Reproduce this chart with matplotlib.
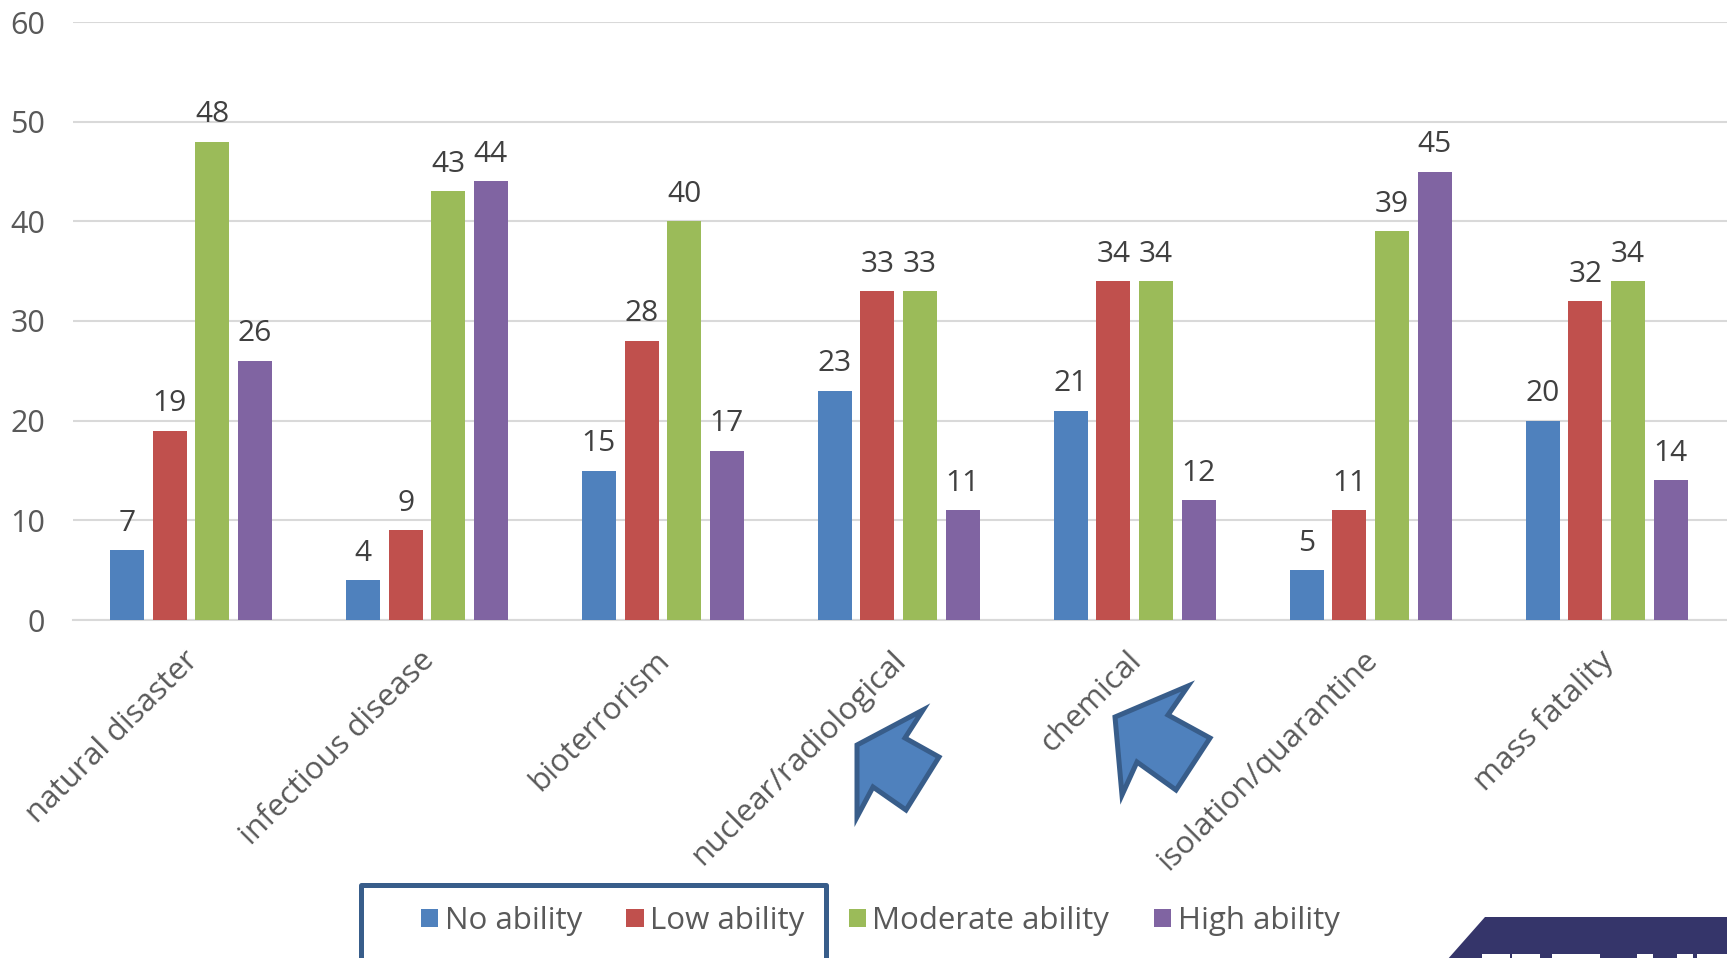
import matplotlib
matplotlib.use('Agg')
import matplotlib.pyplot as plt
import numpy as np
from matplotlib.patches import Polygon
from matplotlib.lines import Line2D
from matplotlib.transforms import ScaledTranslation

categories = ['natural disaster', 'infectious disease', 'bioterrorism', 'nuclear/radiological',
              'chemical', 'isolation/quarantine', 'mass fatality']
no_ability = [7, 4, 15, 23, 21, 5, 20]
low_ability = [19, 9, 28, 33, 34, 11, 32]
moderate_ability = [48, 43, 40, 33, 34, 39, 34]
high_ability = [26, 44, 17, 11, 12, 45, 14]

series_names = ['No ability', 'Low ability', 'Moderate ability', 'High ability']
series_colors = ['#4F81BD', '#C0504D', '#9BBB59', '#8064A2']

W, H = 1727, 958
plt.rcParams['font.family'] = ['Open Sans', 'DejaVu Sans']


def px(x, y):
    # reference pixels to figure fraction
    return x / W, 1 - y / H


fig = plt.figure(figsize=(W / 100, H / 100), dpi=100)
ax = fig.add_axes([73 / W, 1 - 620 / H, (W - 73) / W, (620 - 22) / H])

x = np.arange(len(categories))
bar_w = 0.144
step = 0.181
offsets = [-1.5, -0.5, 0.5, 1.5]
all_series = [no_ability, low_ability, moderate_ability, high_ability]

for values, off, name, color in zip(all_series, offsets, series_names, series_colors):
    bars = ax.bar(x + off * step, values, bar_w, color=color, label=name, zorder=3)
    ax.bar_label(bars, padding=9, fontsize=21.5, color='#404040')

ax.set_xlim(-0.5, 6.51)
ax.set_ylim(0, 60)
ax.set_yticks(range(0, 61, 10))
ax.grid(axis='y', color='#D9D9D9', linewidth=1.5, zorder=0)
ax.set_axisbelow(True)
for side in ['top', 'right', 'left']:
    ax.spines[side].set_visible(False)
ax.spines['bottom'].set_color('#D9D9D9')
ax.spines['bottom'].set_linewidth(1.5)
ax.tick_params(axis='y', length=0, labelsize=22, labelcolor='#595959', pad=20)
ax.tick_params(axis='x', length=0, labelsize=22.6, labelcolor='#595959', pad=18)
ax.set_xticks(x)
ax.set_xticklabels(categories, rotation=45, ha='right', rotation_mode='anchor')
for label in ax.get_xticklabels():
    label.set_transform(label.get_transform() + ScaledTranslation(-8 / 100, 0, fig.dpi_scale_trans))

ax.legend(loc='center left', bbox_to_anchor=px(421, 921), bbox_transform=fig.transFigure,
          ncol=4, frameon=False, fontsize=22.5, handlelength=0.55, handleheight=0.55,
          handletextpad=0.21, columnspacing=1.42, labelcolor='#595959', borderpad=0, borderaxespad=0)

# box around part of the legend, runs off the bottom
bx, by = zip(*[px(361, 960), px(361, 885), px(826, 885), px(826, 960)])
fig.add_artist(Line2D(bx, by, color='#385D8A', linewidth=3.6, solid_joinstyle='round'))

# the two arrows
arrow1 = [(857, 745), (923, 710), (905, 738), (939, 757), (906, 810), (873, 787), (857, 817)]
arrow2 = [(1115, 717), (1188, 686), (1168, 715), (1210, 738), (1176, 790), (1137, 762), (1122, 795)]
for pts in [arrow1, arrow2]:
    fig.add_artist(Polygon([px(*p) for p in pts], closed=True, facecolor='#4F81BD',
                           edgecolor='#385D8A', linewidth=3.6, joinstyle='miter',
                           transform=fig.transFigure))

# logo corner, only the top of its lettering shows
logo = [(1485, 917), (W, 917), (W, 960), (1447, 960)]
fig.add_artist(Polygon([px(*p) for p in logo], closed=True, facecolor='#35356A',
                       edgecolor='none', transform=fig.transFigure))
for x0, x1 in [(1482, 1510), (1512, 1540), (1552, 1600), (1637, 1653), (1677, 1693), (1697, 1727)]:
    top = [(x0, 954), (x1, 954), (x1, 960), (x0, 960)]
    fig.add_artist(Polygon([px(*p) for p in top], closed=True, facecolor='white',
                           edgecolor='none', transform=fig.transFigure))

fig.savefig('out.png', dpi=100)
